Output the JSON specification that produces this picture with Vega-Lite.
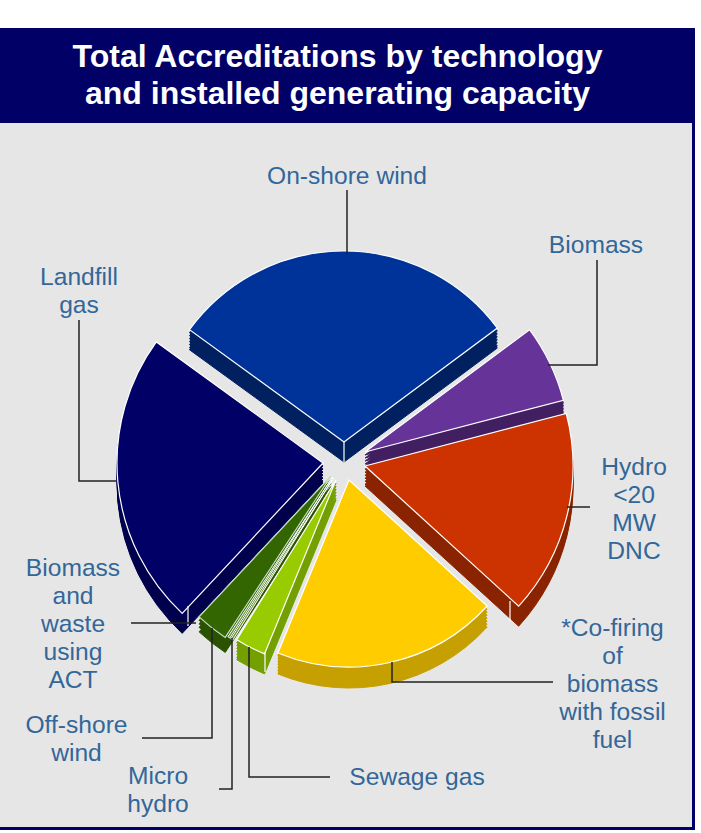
{"$schema":"https://vega.github.io/schema/vega-lite/v6.json","width":701,"height":833,"padding":0,"autosize":{"type":"fit","contains":"padding"},"background":"white","config":{"view":{"stroke":null}},
"layer":[
{"data":{"values":[{"part":"frame","x":0,"x2":695,"y":28,"y2":830},{"part":"plot","x":0,"x2":692,"y":123,"y2":827}]},
"mark":{"type":"rect"},
"encoding":{"x":{"field":"x","type":"quantitative","scale":{"domain":[0,701],"nice":false,"zero":false},"axis":null},"x2":{"field":"x2"},"y":{"field":"y","type":"quantitative","scale":{"domain":[0,833],"reverse":true,"nice":false,"zero":false},"axis":null},"y2":{"field":"y2"},"color":{"field":"part","type":"nominal","scale":{"domain":["frame","plot"],"range":["#000066","#E6E6E6"]},"legend":null}}},
{"data":{"values":[{"order":1,"tech":"On-shore wind","share":29.83},{"order":2,"tech":"Biomass","share":6.11},{"order":3,"tech":"Hydro <20 MW DNC","share":15.83},{"order":4,"tech":"*Co-firing of biomass with fossil fuel","share":19.44},{"order":5,"tech":"Sewage gas","share":2.64},{"order":6,"tech":"Micro hydro","share":0.19},{"order":7,"tech":"Off-shore wind","share":0.19},{"order":8,"tech":"Biomass and waste using ACT","share":2.75},{"order":9,"tech":"Landfill gas","share":23.02}]},
"transform":[{"stack":"share","groupby":[],"sort":[{"field":"order","order":"ascending"}],"as":["a0","a1"]}],
"encoding":{"theta":{"field":"a0","type":"quantitative","stack":null,"scale":{"domain":[0,100],"range":[-0.9425,5.3407]}},"theta2":{"field":"a1"}},
"layer":[
{"transform":[{"filter":"datum.order===1"}],"layer":[
{"mark":{"type":"arc","radius":191,"fill":"#002060","stroke":"#002060","xOffset":-6.5,"yOffset":28.5}},
{"mark":{"type":"arc","radius":191,"fill":"#002060","stroke":"#002060","xOffset":-6.5,"yOffset":31.5}},
{"mark":{"type":"arc","radius":191,"fill":"#002060","stroke":"#002060","xOffset":-6.5,"yOffset":34.5}},
{"mark":{"type":"arc","radius":191,"fill":"#002060","stroke":"#002060","xOffset":-6.5,"yOffset":37.5}},
{"mark":{"type":"arc","radius":191,"fill":"#002060","stroke":"#002060","xOffset":-6.5,"yOffset":40.5}},
{"mark":{"type":"arc","radius":191,"fill":"#002060","stroke":"#002060","xOffset":-6.5,"yOffset":43.5}},
{"mark":{"type":"arc","radius":191,"fill":"#002060","stroke":"#002060","xOffset":-6.5,"yOffset":45.5}},
{"mark":{"type":"arc","radius":191,"fill":"#003399","stroke":"white","strokeWidth":1.2,"xOffset":-6.5,"yOffset":25.5}}]},
{"transform":[{"filter":"datum.order===2"}],"layer":[
{"mark":{"type":"arc","radius":205,"fill":"#421F60","stroke":"#421F60","xOffset":14.5,"yOffset":38.5}},
{"mark":{"type":"arc","radius":205,"fill":"#421F60","stroke":"#421F60","xOffset":14.5,"yOffset":41.5}},
{"mark":{"type":"arc","radius":205,"fill":"#421F60","stroke":"#421F60","xOffset":14.5,"yOffset":44.5}},
{"mark":{"type":"arc","radius":205,"fill":"#421F60","stroke":"#421F60","xOffset":14.5,"yOffset":47.5}},
{"mark":{"type":"arc","radius":205,"fill":"#421F60","stroke":"#421F60","xOffset":14.5,"yOffset":49.5}},
{"mark":{"type":"arc","radius":205,"fill":"#663399","stroke":"white","strokeWidth":1.2,"xOffset":14.5,"yOffset":35.5}}]},
{"transform":[{"filter":"datum.order===3"}],"layer":[
{"mark":{"type":"arc","radius":208,"fill":"#8A2400","stroke":"#8A2400","xOffset":14.5,"yOffset":52.5}},
{"mark":{"type":"arc","radius":208,"fill":"#8A2400","stroke":"#8A2400","xOffset":14.5,"yOffset":55.5}},
{"mark":{"type":"arc","radius":208,"fill":"#8A2400","stroke":"#8A2400","xOffset":14.5,"yOffset":58.5}},
{"mark":{"type":"arc","radius":208,"fill":"#8A2400","stroke":"#8A2400","xOffset":14.5,"yOffset":61.5}},
{"mark":{"type":"arc","radius":208,"fill":"#8A2400","stroke":"#8A2400","xOffset":14.5,"yOffset":64.5}},
{"mark":{"type":"arc","radius":208,"fill":"#8A2400","stroke":"#8A2400","xOffset":14.5,"yOffset":67.5}},
{"mark":{"type":"arc","radius":208,"fill":"#8A2400","stroke":"#8A2400","xOffset":14.5,"yOffset":69.5}},
{"mark":{"type":"arc","radius":208,"fill":"#CC3300","stroke":"white","strokeWidth":1.2,"xOffset":14.5,"yOffset":49.5}}]},
{"transform":[{"filter":"datum.order===9"}],"layer":[
{"mark":{"type":"arc","radius":206,"fill":"#00004C","stroke":"#00004C","xOffset":-27.5,"yOffset":49.5}},
{"mark":{"type":"arc","radius":206,"fill":"#00004C","stroke":"#00004C","xOffset":-27.5,"yOffset":52.5}},
{"mark":{"type":"arc","radius":206,"fill":"#00004C","stroke":"#00004C","xOffset":-27.5,"yOffset":55.5}},
{"mark":{"type":"arc","radius":206,"fill":"#00004C","stroke":"#00004C","xOffset":-27.5,"yOffset":58.5}},
{"mark":{"type":"arc","radius":206,"fill":"#00004C","stroke":"#00004C","xOffset":-27.5,"yOffset":61.5}},
{"mark":{"type":"arc","radius":206,"fill":"#00004C","stroke":"#00004C","xOffset":-27.5,"yOffset":64.5}},
{"mark":{"type":"arc","radius":206,"fill":"#00004C","stroke":"#00004C","xOffset":-27.5,"yOffset":66.5}},
{"mark":{"type":"arc","radius":206,"fill":"#000066","stroke":"white","strokeWidth":1.2,"xOffset":-27.5,"yOffset":46.5}}]},
{"transform":[{"filter":"datum.order===8"}],"layer":[
{"mark":{"type":"arc","radius":193,"fill":"#2A5200","stroke":"#2A5200","xOffset":-19.5,"yOffset":63}},
{"mark":{"type":"arc","radius":193,"fill":"#2A5200","stroke":"#2A5200","xOffset":-19.5,"yOffset":66.5}},
{"mark":{"type":"arc","radius":193,"fill":"#2A5200","stroke":"#2A5200","xOffset":-19.5,"yOffset":70}},
{"mark":{"type":"arc","radius":193,"fill":"#2A5200","stroke":"#2A5200","xOffset":-19.5,"yOffset":74.5}},
{"mark":{"type":"arc","radius":193,"fill":"#336600","stroke":"#BFE0BF","strokeWidth":1.2,"xOffset":-19.5,"yOffset":59.5}}]},
{"transform":[{"filter":"datum.order===7"}],"mark":{"type":"arc","radius":191,"fill":"#669933","stroke":"white","strokeWidth":1,"xOffset":-18,"yOffset":60.5}},
{"transform":[{"filter":"datum.order===6"}],"mark":{"type":"arc","radius":191,"fill":"#669933","stroke":"white","strokeWidth":1,"xOffset":-17,"yOffset":61.5}},
{"transform":[{"filter":"datum.order===5"}],"layer":[
{"mark":{"type":"arc","radius":188,"fill":"#73A000","stroke":"#73A000","xOffset":-14.5,"yOffset":66.5}},
{"mark":{"type":"arc","radius":188,"fill":"#73A000","stroke":"#73A000","xOffset":-14.5,"yOffset":69.5}},
{"mark":{"type":"arc","radius":188,"fill":"#73A000","stroke":"#73A000","xOffset":-14.5,"yOffset":72.5}},
{"mark":{"type":"arc","radius":188,"fill":"#73A000","stroke":"#73A000","xOffset":-14.5,"yOffset":75.5}},
{"mark":{"type":"arc","radius":188,"fill":"#73A000","stroke":"#73A000","xOffset":-14.5,"yOffset":78.5}},
{"mark":{"type":"arc","radius":188,"fill":"#73A000","stroke":"#73A000","xOffset":-14.5,"yOffset":81.5}},
{"mark":{"type":"arc","radius":188,"fill":"#73A000","stroke":"#73A000","xOffset":-14.5,"yOffset":83.5}},
{"mark":{"type":"arc","radius":188,"fill":"#99CC00","stroke":"white","strokeWidth":1.2,"xOffset":-14.5,"yOffset":63.5}}]},
{"transform":[{"filter":"datum.order===4"}],"layer":[
{"mark":{"type":"arc","radius":187,"fill":"#C6A000","stroke":"#C6A000","xOffset":-1.5,"yOffset":66.5}},
{"mark":{"type":"arc","radius":187,"fill":"#C6A000","stroke":"#C6A000","xOffset":-1.5,"yOffset":69.5}},
{"mark":{"type":"arc","radius":187,"fill":"#C6A000","stroke":"#C6A000","xOffset":-1.5,"yOffset":72.5}},
{"mark":{"type":"arc","radius":187,"fill":"#C6A000","stroke":"#C6A000","xOffset":-1.5,"yOffset":75.5}},
{"mark":{"type":"arc","radius":187,"fill":"#C6A000","stroke":"#C6A000","xOffset":-1.5,"yOffset":78.5}},
{"mark":{"type":"arc","radius":187,"fill":"#C6A000","stroke":"#C6A000","xOffset":-1.5,"yOffset":81.5}},
{"mark":{"type":"arc","radius":187,"fill":"#C6A000","stroke":"#C6A000","xOffset":-1.5,"yOffset":84.5}},
{"mark":{"type":"arc","radius":187,"fill":"#FFCC00","stroke":"white","strokeWidth":1.2,"xOffset":-1.5,"yOffset":63.5}}]}
]},
{"data":{"values":[{"x":344,"y":442,"y2":462},{"x":510,"y":601,"y2":621},{"x":188,"y":606,"y2":626},{"x":265,"y":652,"y2":672}]},
"mark":{"type":"rule","color":"white","strokeWidth":1.2},
"encoding":{"x":{"field":"x","type":"quantitative"},"y":{"field":"y","type":"quantitative"},"y2":{"field":"y2"}}},
{"data":{"values":[
{"leader":"On-shore wind","i":1,"x":347,"y":190},{"leader":"On-shore wind","i":2,"x":347,"y":254},
{"leader":"Biomass","i":1,"x":597,"y":260},{"leader":"Biomass","i":2,"x":597,"y":365},{"leader":"Biomass","i":3,"x":548,"y":365},
{"leader":"Landfill gas","i":1,"x":79,"y":320},{"leader":"Landfill gas","i":2,"x":79,"y":481},{"leader":"Landfill gas","i":3,"x":116,"y":481},
{"leader":"Hydro","i":1,"x":590,"y":507},{"leader":"Hydro","i":2,"x":567,"y":507},
{"leader":"Co-firing","i":1,"x":553,"y":682},{"leader":"Co-firing","i":2,"x":392,"y":682},{"leader":"Co-firing","i":3,"x":392,"y":662},
{"leader":"Sewage gas","i":1,"x":330,"y":777},{"leader":"Sewage gas","i":2,"x":249,"y":777},{"leader":"Sewage gas","i":3,"x":249,"y":647},
{"leader":"Micro hydro","i":1,"x":219,"y":789},{"leader":"Micro hydro","i":2,"x":232,"y":789},{"leader":"Micro hydro","i":3,"x":232,"y":638},
{"leader":"Off-shore wind","i":1,"x":142,"y":738},{"leader":"Off-shore wind","i":2,"x":212,"y":738},{"leader":"Off-shore wind","i":3,"x":212,"y":628},
{"leader":"ACT","i":1,"x":131,"y":623},{"leader":"ACT","i":2,"x":196,"y":623}
]},
"mark":{"type":"line","color":"#222222","strokeWidth":1.5,"interpolate":"linear"},
"encoding":{"x":{"field":"x","type":"quantitative"},"y":{"field":"y","type":"quantitative"},"detail":{"field":"leader"},"order":{"field":"i"}}},
{"data":{"values":[
{"label":"On-shore wind","x":347,"y":177},
{"label":"Biomass","x":596,"y":246},
{"label":"Landfill\ngas","x":79,"y":278},
{"label":"Hydro\n<20\nMW\nDNC","x":634,"y":468},
{"label":"*Co-firing\nof\nbiomass\nwith fossil\nfuel","x":612.5,"y":629},
{"label":"Sewage gas","x":417,"y":778},
{"label":"Micro\nhydro","x":158,"y":777},
{"label":"Off-shore\nwind","x":76.5,"y":726},
{"label":"Biomass\nand\nwaste\nusing\nACT","x":73,"y":569}
]},
"mark":{"type":"text","font":"Liberation Sans","fontSize":24.6,"color":"#336699","align":"center","baseline":"middle","lineBreak":"\n","lineHeight":28},
"encoding":{"x":{"field":"x","type":"quantitative"},"y":{"field":"y","type":"quantitative"},"text":{"field":"label"}}},
{"data":{"values":[{"line":"Total Accreditations by technology","x":337.5,"y":57},{"line":"and installed generating capacity","x":337.5,"y":94}]},
"mark":{"type":"text","font":"Liberation Sans","fontSize":32,"fontWeight":"bold","color":"white","align":"center","baseline":"middle"},
"encoding":{"x":{"field":"x","type":"quantitative"},"y":{"field":"y","type":"quantitative"},"text":{"field":"line"}}}
]}
